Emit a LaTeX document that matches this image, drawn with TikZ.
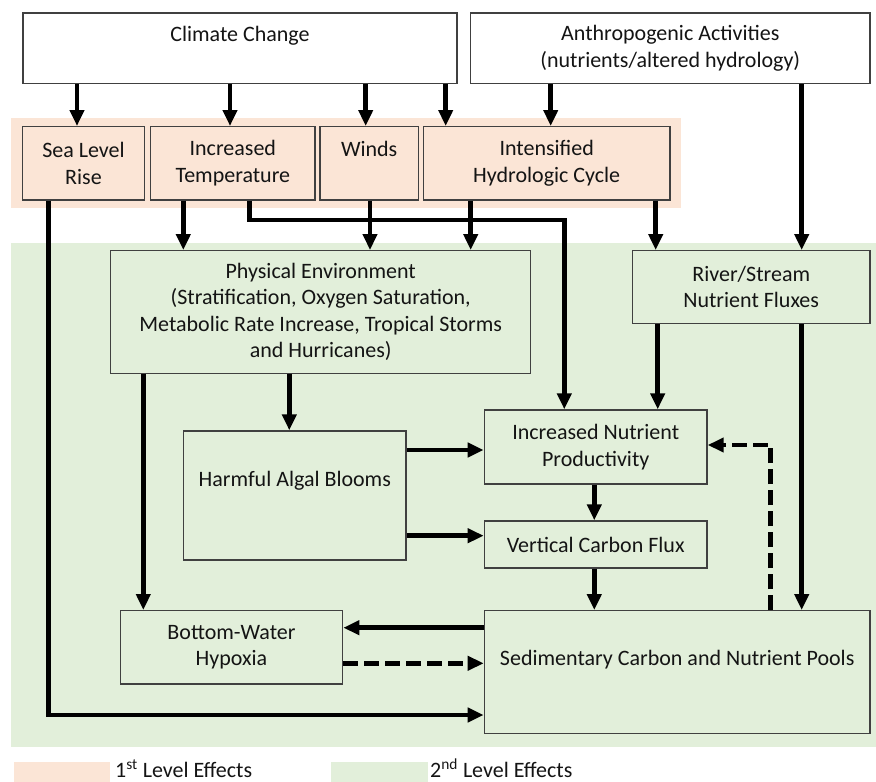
\documentclass[tikz,border=0pt]{standalone}
\usepackage{fontspec}
\setmainfont{Carlito}
\usepackage{xcolor}
\usepackage{tikz}
\usetikzlibrary{arrows.meta}
\definecolor{firstlvl}{HTML}{FBE5D6}
\definecolor{secondlvl}{HTML}{E2EFDA}
\definecolor{edgegray}{HTML}{404040}

\begin{document}
\begin{tikzpicture}[x=1pt, y=-1pt,
    every node/.style={font=\fontsize{22}{26.5}\selectfont, text=black!92, align=center, inner sep=0pt},
    box/.style={draw=edgegray, line width=1.3pt},
    arr/.style={line width=4.5pt, -{Triangle[length=16pt, width=14pt]}},
    dasharr/.style={arr, dash pattern=on 15pt off 6pt}]
    \useasboundingbox (0,0) rectangle (876,782);
    % level backgrounds
    \fill[firstlvl] (11,118) rectangle (681,208);
    \fill[secondlvl] (11,243.3) rectangle (876,746.7);

    % drivers
    \node[box, fill=white, minimum width=434pt, minimum height=70.3pt, text depth=28pt] (climate) at (240,48.2) {Climate Change};
    \node[box, fill=white, minimum width=399.3pt, minimum height=70.3pt] (anthro) at (670.3,48.2) {Anthropogenic Activities\\(nutrients/altered hydrology)};
    % 1st level effects
    \node[box, fill=firstlvl, minimum width=121.6pt, minimum height=73.3pt] (sealevel) at (83.5,163.3) {Sea Level\\Rise};
    \node[box, fill=firstlvl, minimum width=164.3pt, minimum height=73.3pt] (temp) at (232.8,163.3) {Increased\\Temperature};
    \node[box, fill=firstlvl, minimum width=98.3pt, minimum height=73.3pt, text depth=28pt] (winds) at (369.2,163.3) {Winds};
    \node[box, fill=firstlvl, minimum width=246.7pt, minimum height=73.3pt] (hydro) at (546.7,163.3) {Intensified\\Hydrologic Cycle};
    % 2nd level effects
    \node[box, fill=secondlvl, minimum width=420pt, minimum height=122.6pt] (phys) at (320.7,312) {Physical Environment\\(Stratification, Oxygen Saturation,\\Metabolic Rate Increase, Tropical Storms\\and Hurricanes)};
    \node[box, fill=secondlvl, minimum width=237.7pt, minimum height=72.6pt] (river) at (751.2,287) {River/Stream\\Nutrient Fluxes};
    \node[box, fill=secondlvl, minimum width=222.3pt, minimum height=129pt, text depth=34pt] (hab) at (294.8,495.5) {Harmful Algal Blooms};
    \node[box, fill=secondlvl, minimum width=222.4pt, minimum height=73.3pt] (hypoxia) at (231.5,647.3) {Bottom-Water\\Hypoxia};
    \node[box, fill=secondlvl, minimum width=222.7pt, minimum height=74pt] (nutprod) at (595.7,447) {Increased Nutrient\\Productivity};
    \node[box, fill=secondlvl, minimum width=222.7pt, minimum height=47pt] (vflux) at (595.7,544.5) {Vertical Carbon Flux};
    \node[box, fill=secondlvl, minimum width=385.7pt, minimum height=122.6pt, text depth=28pt] (sedpool) at (677.2,672) {Sedimentary Carbon and Nutrient Pools};

    % connectors
    \draw[arr] (77,0 |- climate.south) -- (77,0 |- sealevel.north);
    \draw[arr] (230,0 |- climate.south) -- (230,0 |- temp.north);
    \draw[arr] (365.7,0 |- climate.south) -- (365.7,0 |- winds.north);
    \draw[arr] (445.7,0 |- climate.south) -- (445.7,0 |- hydro.north);
    \draw[arr] (550.7,0 |- anthro.south) -- (550.7,0 |- hydro.north);
    \draw[arr] (801.7,0 |- anthro.south) -- (801.7,0 |- river.north);
    \draw[arr] (48.3,0 |- sealevel.south) |- (sedpool.west |- 0,715);
    \draw[arr] (183.3,0 |- temp.south) -- (183.3,0 |- phys.north);
    \draw[arr] (249.3,0 |- temp.south) -- (249.3,220) -| (564.3,0 |- nutprod.north);
    \draw[arr] (370,0 |- winds.south) -- (370,0 |- phys.north);
    \draw[arr] (470.7,0 |- hydro.south) -- (470.7,0 |- phys.north);
    \draw[arr] (655.7,0 |- hydro.south) -- (655.7,0 |- river.north);
    \draw[arr] (143.3,0 |- phys.south) -- (143.3,0 |- hypoxia.north);
    \draw[arr] (289.3,0 |- phys.south) -- (289.3,0 |- hab.north);
    \draw[arr] (657.7,0 |- river.south) -- (657.7,0 |- nutprod.north);
    \draw[arr] (801.7,0 |- river.south) -- (801.7,0 |- sedpool.north);
    \draw[arr] (hab.east |- 0,450) -- (nutprod.west |- 0,450);
    \draw[arr] (hab.east |- 0,535.7) -- (vflux.west |- 0,535.7);
    \draw[arr] (594.3,0 |- nutprod.south) -- (594.3,0 |- vflux.north);
    \draw[arr] (594.3,0 |- vflux.south) -- (594.3,0 |- sedpool.north);
    \draw[arr] (sedpool.west |- 0,627.7) -- (hypoxia.east |- 0,627.7);
    \draw[dasharr] (hypoxia.east |- 0,663.3) -- (sedpool.west |- 0,663.3);
    \draw[dasharr] (770.7,0 |- sedpool.north) |- (nutprod.east |- 0,445);

    % legend
    \node[fill=firstlvl, minimum width=96pt, minimum height=24pt, anchor=north west] (firstkey) at (14,762) {};
    \node[anchor=base west] (firstlabel) at (115,777.5) {1\textsuperscript{st} Level Effects};
    \node[fill=secondlvl, minimum width=96.3pt, minimum height=24pt, anchor=north west] (secondkey) at (331,762) {};
    \node[anchor=base west] (secondlabel) at (430,777.5) {2\textsuperscript{nd} Level Effects};
\end{tikzpicture}
\end{document}
